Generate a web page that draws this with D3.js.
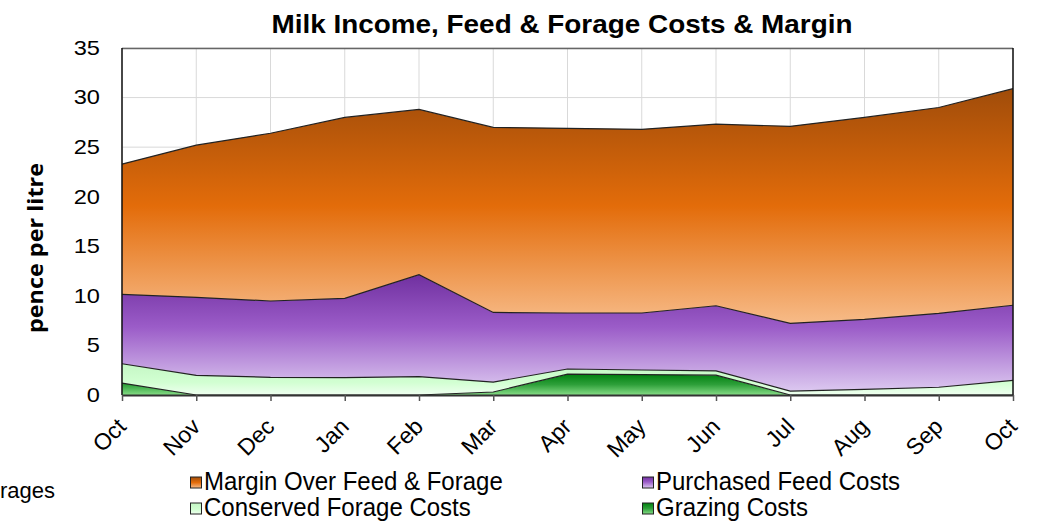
<!DOCTYPE html>
<html>
<head>
<meta charset="utf-8">
<script src="https://cdn.jsdelivr.net/npm/d3@7"></script>
<style>
	body { margin: 0; background: #fff; }
	svg { display: block; font-family: "Liberation Sans", Arial, sans-serif; }
</style>
</head>
<body>
<svg class="chart" width="1042" height="521"></svg>
<script>
const months = ['Oct', 'Nov', 'Dec', 'Jan', 'Feb', 'Mar', 'Apr', 'May', 'Jun', 'Jul', 'Aug', 'Sep', 'Oct'];
const grazing = [1.2, 0, 0, 0, 0, 0.3, 2.1, 2.05, 2.0, 0, 0, 0, 0];
const conserved = [1.95, 1.98, 1.78, 1.75, 1.85, 1.0, 0.52, 0.47, 0.44, 0.4, 0.57, 0.78, 1.48];
const purchased = [7.0, 7.87, 7.7, 8.0, 10.28, 7.03, 5.65, 5.75, 6.56, 6.83, 7.06, 7.46, 7.57];
const margin = [13.14, 15.35, 16.92, 18.25, 16.67, 18.66, 18.63, 18.53, 18.32, 19.87, 20.37, 20.76, 21.85];
const yTicks = [0, 5, 10, 15, 20, 25, 30, 35];
const seriesNames = ['Grazing Costs', 'Conserved Forage Costs', 'Purchased Feed Costs', 'Margin Over Feed & Forage'];

function startApp() {
	const box = {left: 122, right: 1013, top: 48, bottom: 395};
	const svg = d3.select('.chart');
	const x = d3.scalePoint().domain(d3.range(months.length)).range([box.left, box.right]);
	const y = d3.scaleLinear().domain([0, 35]).range([box.bottom, box.top]);

	const rows = months.map((m, i) => ({
		i, g: grazing[i], c: conserved[i], p: purchased[i], m: margin[i]
	}));
	const layers = d3.stack().keys(['g', 'c', 'p', 'm'])(rows);

	// gradients, dark at top like the original
	const grads = {
		g: [[0, '#00800f'], [0.5, '#2ea03a'], [1, '#86dc86']],
		c: [[0, '#c4f7c4'], [0.6, '#d2ffd2'], [1, '#effff0']],
		p: [[0, '#7030a0'], [0.45, '#9b5cc8'], [1, '#dcc8f0']],
		m: [[0, '#a04c0a'], [0.5, '#e36c0a'], [1, '#f7bb88']]
	};
	const defs = svg.append('defs');
	Object.entries(grads).forEach(([k, stops]) => {
		const lg = defs.append('linearGradient').attr('id', 'grad-' + k)
			.attr('x1', 0).attr('y1', 0).attr('x2', 0).attr('y2', 1);
		stops.forEach(([o, c]) => lg.append('stop').attr('offset', o).attr('stop-color', c));
	});

	// grid
	svg.append('g').selectAll('line').data(yTicks).join('line')
		.attr('x1', box.left).attr('x2', box.right)
		.attr('y1', d => y(d)).attr('y2', d => y(d))
		.attr('stroke', '#d9d9d9').attr('stroke-width', 1);
	svg.append('g').selectAll('line').data(d3.range(months.length)).join('line')
		.attr('x1', d => x(d)).attr('x2', d => x(d))
		.attr('y1', box.top).attr('y2', box.bottom)
		.attr('stroke', '#d9d9d9').attr('stroke-width', 1);

	const area = d3.area().x(d => x(d.data.i)).y0(d => y(d[0])).y1(d => y(d[1]));
	const line = d3.line().x(d => x(d.data.i)).y(d => y(d[1]));

	svg.append('g').selectAll('path').data(layers).join('path')
		.attr('d', area)
		.attr('fill', d => `url(#grad-${d.key})`);
	svg.append('g').selectAll('path').data(layers).join('path')
		.attr('d', line)
		.attr('fill', 'none')
		.attr('stroke', '#222')
		.attr('stroke-width', 1.2);

	// frame
	svg.append('line').attr('x1', box.left).attr('x2', box.right).attr('y1', box.top + 0.5).attr('y2', box.top + 0.5)
		.attr('stroke', '#666').attr('stroke-width', 1.5);
	svg.append('line').attr('x1', box.right).attr('x2', box.right).attr('y1', box.top).attr('y2', box.bottom)
		.attr('stroke', '#111').attr('stroke-width', 1.5);
	svg.append('line').attr('x1', box.left).attr('x2', box.left).attr('y1', box.top).attr('y2', box.bottom)
		.attr('stroke', '#111').attr('stroke-width', 1.5);

	// x axis
	const xAxis = svg.append('g')
		.attr('transform', `translate(0, ${box.bottom})`)
		.call(d3.axisBottom(x).tickSize(6).tickSizeOuter(0).tickFormat(i => months[i]));
	xAxis.select('.domain').attr('stroke', '#333').attr('stroke-width', 2);
	xAxis.selectAll('.tick line').attr('stroke', '#555').attr('stroke-width', 1.5);
	xAxis.selectAll('.tick text')
		.attr('font-size', 23).attr('fill', '#000')
		.attr('text-anchor', 'end')
		.attr('dy', 0).attr('y', 0)
		.attr('transform', 'translate(5, 33) rotate(-45)');

	// y axis, text a bit wider than normal like the original
	const yAxis = svg.append('g')
		.attr('transform', `translate(${box.left}, 0)`)
		.call(d3.axisLeft(y).tickValues(yTicks).tickSize(0));
	yAxis.select('.domain').remove();
	yAxis.selectAll('.tick text')
		.attr('font-size', 20).attr('fill', '#000')
		.attr('x', 0)
		.attr('transform', 'translate(-22, 0) scale(1.18, 1)');

	svg.append('text')
		.attr('x', 562).attr('y', 33)
		.attr('text-anchor', 'middle')
		.attr('font-size', 25).attr('font-weight', 'bold')
		.attr('textLength', 581).attr('lengthAdjust', 'spacingAndGlyphs')
		.text('Milk Income, Feed & Forage Costs & Margin');

	svg.append('text')
		.attr('transform', 'translate(43, 248) rotate(-90)')
		.attr('text-anchor', 'middle')
		.attr('font-family', '"Open Sans", sans-serif')
		.attr('font-size', 22).attr('font-weight', 'bold')
		.attr('textLength', 170).attr('lengthAdjust', 'spacingAndGlyphs')
		.text('pence per litre');

	// legend
	const legendItems = [
		{key: 'm', name: seriesNames[3], x: 190, y: 490},
		{key: 'p', name: seriesNames[2], x: 642, y: 490},
		{key: 'c', name: seriesNames[1], x: 190, y: 516},
		{key: 'g', name: seriesNames[0], x: 642, y: 516}
	];
	const lg = svg.append('g').selectAll('g').data(legendItems).join('g')
		.attr('transform', d => `translate(${d.x}, ${d.y})`);
	lg.append('rect').attr('x', 0.5).attr('y', -13).attr('width', 11).attr('height', 11)
		.attr('fill', d => `url(#grad-${d.key})`).attr('stroke', '#222').attr('stroke-width', 1);
	lg.append('text').attr('x', 0).attr('y', 0).attr('font-size', 25)
		.attr('transform', 'translate(14, 0) scale(0.96, 1)')
		.text(d => d.name);

	svg.append('text').attr('x', 0).attr('y', 498).attr('font-size', 22).text('rages');
}

window.onload = startApp;
</script>
</body>
</html>
